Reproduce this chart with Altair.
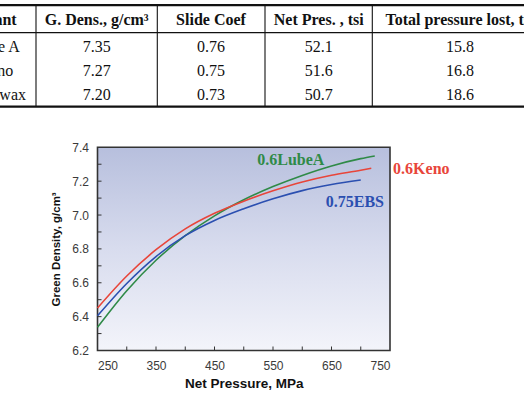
import altair as alt
import pandas as pd

# ---------------- curve data ----------------
series_names = ["0.6LubeA", "0.6Keno", "0.75EBS"]
series_colors = ["#2f8a47", "#e8453a", "#2b4fb0"]

lubea_pressure = [250, 300, 350, 400, 450, 500, 550, 600, 650, 700, 724]
lubea_density = [6.337, 6.553, 6.733, 6.878, 6.995, 7.090, 7.168, 7.234, 7.290, 7.333, 7.349]
keno_pressure = [250, 300, 350, 400, 450, 500, 550, 600, 650, 700, 718]
keno_density = [6.451, 6.640, 6.795, 6.918, 7.010, 7.082, 7.143, 7.195, 7.235, 7.264, 7.276]
ebs_pressure = [250, 300, 350, 400, 450, 500, 550, 600, 650, 700]
ebs_density = [6.405, 6.596, 6.755, 6.878, 6.968, 7.037, 7.096, 7.144, 7.180, 7.207]

x_tick_labels = [250, 350, 450, 550, 650, 750]
y_tick_labels = [6.2, 6.4, 6.6, 6.8, 7.0, 7.2, 7.4]
x_minor_ticks = [300, 350, 400, 450, 500, 550, 600, 650, 700]
y_minor_ticks = [6.3, 6.4, 6.5, 6.6, 6.7, 6.8, 6.9, 7.0, 7.1, 7.2, 7.3]

# ---------------- table data ----------------
table_header = ["Lubricant", "G. Dens., g/cm³", "Slide Coef", "Net Pres. , tsi", "Total pressure lost, tsi"]
table_lubricant = ["Lube A", "Keno", "EBS wax"]
table_gdens = ["7.35", "7.27", "7.20"]
table_slide = ["0.76", "0.75", "0.73"]
table_netpres = ["52.1", "51.6", "50.7"]
table_lost = ["15.8", "16.8", "18.6"]

# ---------------- layout ----------------
PAGE_W, PAGE_H = 524, 402
PAD_L, PAD_T = 97.5, 147.3
W, H = 292.5, 203.2
PAD_R = PAGE_W - PAD_L - W
PAD_B = PAGE_H - PAD_T - H

xs = alt.Scale(domain=[250, 750], nice=False, zero=False)
ys = alt.Scale(domain=[6.2, 7.4], nice=False, zero=False)
cs = alt.Scale(domain=series_names, range=series_colors)

x_axis = alt.Axis(values=x_tick_labels, ticks=False, domain=False, grid=False,
                  labelPadding=10, title="Net Pressure, MPa", titleFontSize=13.5, titlePadding=5)
y_axis = alt.Axis(values=y_tick_labels, format=".1f", ticks=False, domain=False, grid=False,
                  labelPadding=9, title="Green Density, g/cm³", titleFontSize=11.5, titlePadding=10)

curves = pd.concat([
    pd.DataFrame({"series": series_names[0], "p": lubea_pressure, "d": lubea_density}),
    pd.DataFrame({"series": series_names[1], "p": keno_pressure, "d": keno_density}),
    pd.DataFrame({"series": series_names[2], "p": ebs_pressure, "d": ebs_density}),
])

gradient = alt.Gradient(
    gradient="linear",
    stops=[alt.GradientStop(color="#b7bfdd", offset=0),
           alt.GradientStop(color="#d8dcee", offset=0.5),
           alt.GradientStop(color="#f3f4fa", offset=1)],
    x1=0, x2=0, y1=0, y2=1,
)

bg = alt.Chart(pd.DataFrame({"k": [0]})).mark_rect(
    fill=gradient, stroke="#333333", strokeWidth=1.6
).encode(x=alt.value(0), x2=alt.value(W), y=alt.value(0), y2=alt.value(H))

lines = alt.Chart(curves).mark_line(interpolate="monotone", strokeWidth=1.6).encode(
    x=alt.X("p:Q", scale=xs, axis=x_axis),
    y=alt.Y("d:Q", scale=ys, axis=y_axis),
    color=alt.Color("series:N", scale=cs, legend=None),
    detail="series:N",
)

label_df = pd.DataFrame({
    "series": series_names,
    "p": [580.4, 803.5, 690.0],
    "d": [7.325, 7.274, 7.079],
})
labels = alt.Chart(label_df).mark_text(
    font="Liberation Serif", fontSize=16, fontWeight="bold", baseline="middle", align="center"
).encode(
    x=alt.X("p:Q", scale=xs, axis=x_axis),
    y=alt.Y("d:Q", scale=ys, axis=y_axis),
    text="series:N",
    color=alt.Color("series:N", scale=cs, legend=None),
)

xt = alt.Chart(pd.DataFrame({"p": x_minor_ticks})).mark_rule(color="#333333", strokeWidth=1).encode(
    x=alt.X("p:Q", scale=xs, axis=x_axis), y=alt.value(H), y2=alt.value(H - 4))
yt = alt.Chart(pd.DataFrame({"d": y_minor_ticks})).mark_rule(color="#333333", strokeWidth=1).encode(
    y=alt.Y("d:Q", scale=ys, axis=y_axis), x=alt.value(0), x2=alt.value(4))

plot = alt.layer(bg, lines, labels, xt, yt)

# ---------------- table (page-pixel layout through identity-like scales) ----------------
tx = alt.Scale(domain=[0, PAGE_W], range=[-PAD_L, PAGE_W - PAD_L], nice=False, zero=False)
ty = alt.Scale(domain=[0, PAGE_H], range=[-PAD_T, PAGE_H - PAD_T], nice=False, zero=False)

col_centers = [-4, 96.7, 211, 318.7, 460]
header_centers = [-18, 96.7, 211, 318.7, 460]
header_y = 20
row_y = [47.3, 71, 95]
vlines_x = [36, 157.3, 265, 372.3]
top_y, head_line_y, bottom_y = 5.2, 32.7, 106.7

head_df = pd.DataFrame({"x": header_centers, "y": [header_y] * 5, "t": table_header})
body_cols = [table_lubricant, table_gdens, table_slide, table_netpres, table_lost]
body_rows = []
for ci, col in enumerate(body_cols):
    for ri, val in enumerate(col):
        body_rows.append({"x": col_centers[ci], "y": row_y[ri], "t": val})
body_df = pd.DataFrame(body_rows)

rules_rows = [
    {"x": -20, "x2": 560, "y": top_y, "y2": top_y, "w": 2.2},
    {"x": -20, "x2": 560, "y": head_line_y, "y2": head_line_y, "w": 1.2},
    {"x": -20, "x2": 560, "y": bottom_y, "y2": bottom_y, "w": 2.2},
]
for vx in vlines_x:
    rules_rows.append({"x": vx, "x2": vx, "y": top_y, "y2": bottom_y, "w": 1.1})
rules_df = pd.DataFrame(rules_rows)

t_rules = alt.Chart(rules_df).mark_rule(color="#111111").encode(
    x=alt.X("x:Q", scale=tx, axis=None), x2="x2:Q",
    y=alt.Y("y:Q", scale=ty, axis=None), y2="y2:Q",
    strokeWidth=alt.StrokeWidth("w:Q", scale=None),
)
t_head = alt.Chart(head_df).mark_text(
    font="Liberation Serif", fontSize=16, fontWeight="bold", color="#111111",
    align="center", baseline="middle"
).encode(x=alt.X("x:Q", scale=tx, axis=None), y=alt.Y("y:Q", scale=ty, axis=None), text="t:N")
t_body = alt.Chart(body_df).mark_text(
    font="Liberation Serif", fontSize=16, color="#111111", align="center", baseline="middle"
).encode(x=alt.X("x:Q", scale=tx, axis=None), y=alt.Y("y:Q", scale=ty, axis=None), text="t:N")

table = alt.layer(t_rules, t_head, t_body)

chart = alt.layer(plot, table).resolve_scale(
    x="independent", y="independent"
).properties(
    width=W, height=H,
    autosize=alt.AutoSizeParams(type="none"),
    padding={"left": PAD_L, "top": PAD_T, "right": PAD_R, "bottom": PAD_B},
    background="white",
).configure_view(strokeWidth=0).configure_axis(
    labelFont="Liberation Sans", labelFontSize=12, labelColor="#3a3a3a",
    titleFont="Liberation Sans", titleFontWeight="bold", titleColor="#111111",
)

chart.save("out.html", embed_options={"renderer": "svg", "actions": False})
